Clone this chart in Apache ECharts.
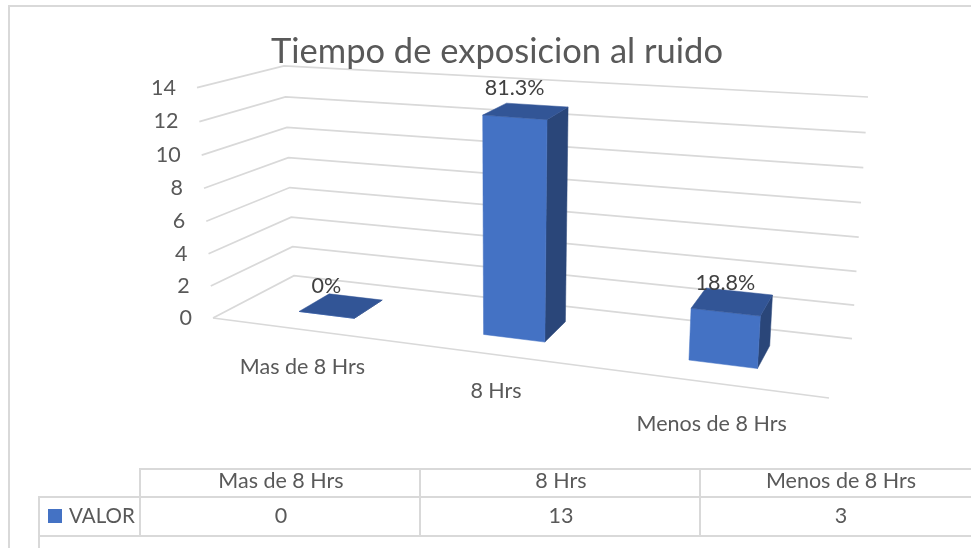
<!DOCTYPE html>
<html>
<head>
<meta charset="utf-8">
<style>
  html, body { margin: 0; padding: 0; background: #fff; }
  #chart { width: 971px; height: 548px; }
</style>
<script src="https://cdn.jsdelivr.net/npm/echarts@6/dist/echarts.min.js"></script>
</head>
<body>
<div id="chart"></div>
<script>
  var chartTitle = 'Tiempo de exposicion al ruido';
  var seriesName = 'VALOR';
  var categories = ['Mas de 8 Hrs', '8 Hrs', 'Menos de 8 Hrs'];
  var values = [0, 13, 3];
  var percentLabels = ['0%', '81.3%', '18.8%'];
  var yTicks = [0, 2, 4, 6, 8, 10, 12, 14];

  var FONT = 'Lato, "Open Sans", sans-serif';
  var TEXT_FONT = '21.5px ' + FONT;
  var GREY = '#595959';
  var LINE = '#d9d9d9';

  // esquinas de la caja 3D en pantalla (suelo / techo)
  var box = {
    fl0: [213, 318], fl1: [197, 87.7],
    fr0: [829, 398], fr1: [848, 135],
    bl0: [294, 275.7], bl1: [284, 66],
    br0: [852, 338.7], br1: [868, 97]
  };
  var BAR_FRACTION = 0.31; // ancho de barra sobre el ancho de categoria
  var W_FRONT = 0.33, W_BACK = 0.73; // profundidad de la barra
  var CATEGORY_LABEL_DY = [37, 36, 41];

  function mix(a, b, t) {
    return [a[0] + (b[0] - a[0]) * t, a[1] + (b[1] - a[1]) * t];
  }
  // u: a lo largo de categorias, w: profundidad, v: altura (0..1)
  function project(u, w, v) {
    var up = 0.85 * u / (1 - 0.15 * u);
    var vp = 0.967 * v / (1 - 0.033 * v);
    var front = mix(mix(box.fl0, box.fr0, up), mix(box.fl1, box.fr1, up), vp);
    var back = mix(mix(box.bl0, box.br0, up), mix(box.bl1, box.br1, up), vp);
    return mix(front, back, w);
  }
  // pasa de pixel del grid (escala de ECharts) a u,v
  function toUnit(params, pt) {
    var r = params.coordSys;
    return [(pt[0] - r.x) / r.width, (r.y + r.height - pt[1]) / r.height];
  }
  function face(points, color) {
    return { type: 'polygon', shape: { points: points }, style: { fill: color, stroke: color, lineWidth: 0.5 } };
  }

  function renderGridLine(params, api) {
    var v = toUnit(params, api.coord([0, api.value(0)]))[1];
    var children = [{
      type: 'polyline',
      shape: { points: [project(0, 0, v), project(0, 1, v), project(1, 1, v)] },
      style: { stroke: LINE, lineWidth: 1.75, fill: null }
    }];
    if (v === 0) {
      children.push({
        type: 'line',
        shape: { x1: box.fl0[0], y1: box.fl0[1], x2: box.fr0[0], y2: box.fr0[1] },
        style: { stroke: LINE, lineWidth: 1.75 }
      });
    }
    return { type: 'group', children: children };
  }

  function renderTickLabel(params, api) {
    var v = toUnit(params, api.coord([0, api.value(0)]))[1];
    var p = project(0, 0, v);
    return {
      type: 'text',
      style: { text: String(api.value(0)), x: p[0] - 21, y: p[1], align: 'right', verticalAlign: 'middle', fill: GREY, font: TEXT_FONT }
    };
  }

  function renderBar(params, api) {
    var idx = api.value(0);
    var top = toUnit(params, api.coord([idx, api.value(1)]));
    var half = api.size([1, 0])[0] * BAR_FRACTION / 2 / params.coordSys.width;
    var u0 = top[0] - half, u1 = top[0] + half, v = top[1];
    var a = project(u0, W_FRONT, 0), b = project(u1, W_FRONT, 0), c = project(u1, W_FRONT, v), d = project(u0, W_FRONT, v);
    var e = project(u1, W_BACK, 0), f = project(u1, W_BACK, v), g = project(u0, W_BACK, v);
    return {
      type: 'group',
      children: [
        face([b, e, f, c], '#2a4679'),
        face([a, b, c, d], '#4472c4'),
        face([d, c, f, g], '#325596')
      ]
    };
  }

  function renderBarLabel(params, api) {
    var idx = api.value(0);
    var top = toUnit(params, api.coord([idx, api.value(1)]));
    var p = project(top[0], W_FRONT, top[1]);
    return {
      type: 'text',
      style: { text: percentLabels[idx], x: p[0], y: p[1] - 29, align: 'center', verticalAlign: 'middle', fill: '#404040', font: TEXT_FONT }
    };
  }

  function renderCategoryLabel(params, api) {
    var idx = api.value(0);
    var u = toUnit(params, api.coord([idx, 0]))[0];
    var p = project(u, 0, 0);
    return {
      type: 'text',
      style: { text: categories[idx], x: p[0], y: p[1] + CATEGORY_LABEL_DY[idx], align: 'center', verticalAlign: 'middle', fill: GREY, font: TEXT_FONT }
    };
  }

  // marco y tabla de datos
  function hLine(x1, x2, y) {
    return { type: 'line', shape: { x1: x1, y1: y, x2: x2, y2: y }, style: { stroke: LINE, lineWidth: 2 } };
  }
  function vLine(x, y1, y2) {
    return { type: 'line', shape: { x1: x, y1: y1, x2: x, y2: y2 }, style: { stroke: LINE, lineWidth: 2 } };
  }
  function cellText(text, x, y, align, font) {
    return { type: 'text', style: { text: text, x: x, y: y, align: align || 'center', verticalAlign: 'middle', fill: GREY, font: font || TEXT_FONT } };
  }
  var COL_W = 280, COL_X = 140;
  var tableItems = [
    hLine(8, 971, 6), vLine(9, 5, 548),
    hLine(COL_X - 1, 971, 469), hLine(38, 971, 497), hLine(38, 971, 536),
    vLine(39, 496, 548), vLine(COL_X, 468, 537),
    { type: 'rect', shape: { x: 48, y: 509, width: 14, height: 14 }, style: { fill: '#4472c4' } },
    cellText(seriesName, 69, 516, 'left', '20.5px ' + FONT)
  ];
  categories.forEach(function (name, i) {
    tableItems.push(vLine(COL_X + COL_W * (i + 1), 468, 537));
    tableItems.push(cellText(name, COL_X + COL_W * (i + 0.5) + 1, 481));
    tableItems.push(cellText(String(values[i]), COL_X + COL_W * (i + 0.5) + 1, 516));
  });

  var myChart = echarts.init(document.getElementById('chart'));
  myChart.setOption({
    backgroundColor: '#fff',
    animation: false,
    title: {
      text: chartTitle,
      left: 492,
      top: 29,
      textAlign: 'center',
      textStyle: { color: GREY, fontFamily: FONT, fontWeight: 'normal', fontSize: 34.5 }
    },
    grid: { left: 100, right: 100, top: 80, bottom: 150 },
    xAxis: { type: 'category', data: categories, show: false },
    yAxis: { type: 'value', min: 0, max: 14, interval: 2, show: false },
    graphic: { elements: tableItems },
    series: [
      { type: 'custom', name: 'rejilla', z: 1, silent: true, clip: false, renderItem: renderGridLine, encode: { y: 0 }, data: yTicks.map(function (t) { return [t]; }) },
      { type: 'custom', name: 'ticks', z: 3, silent: true, clip: false, renderItem: renderTickLabel, encode: { y: 0 }, data: yTicks.map(function (t) { return [t]; }) },
      { type: 'custom', name: seriesName, z: 2, silent: true, clip: false, renderItem: renderBar, encode: { x: 0, y: 1 }, data: values.map(function (v, i) { return [i, v]; }) },
      { type: 'custom', name: 'etiquetas', z: 4, silent: true, clip: false, renderItem: renderBarLabel, encode: { x: 0, y: 1 }, data: values.map(function (v, i) { return [i, v]; }) },
      { type: 'custom', name: 'categorias', z: 3, silent: true, clip: false, renderItem: renderCategoryLabel, encode: { x: 0 }, data: categories.map(function (c, i) { return [i]; }) }
    ]
  });
</script>
</body>
</html>
